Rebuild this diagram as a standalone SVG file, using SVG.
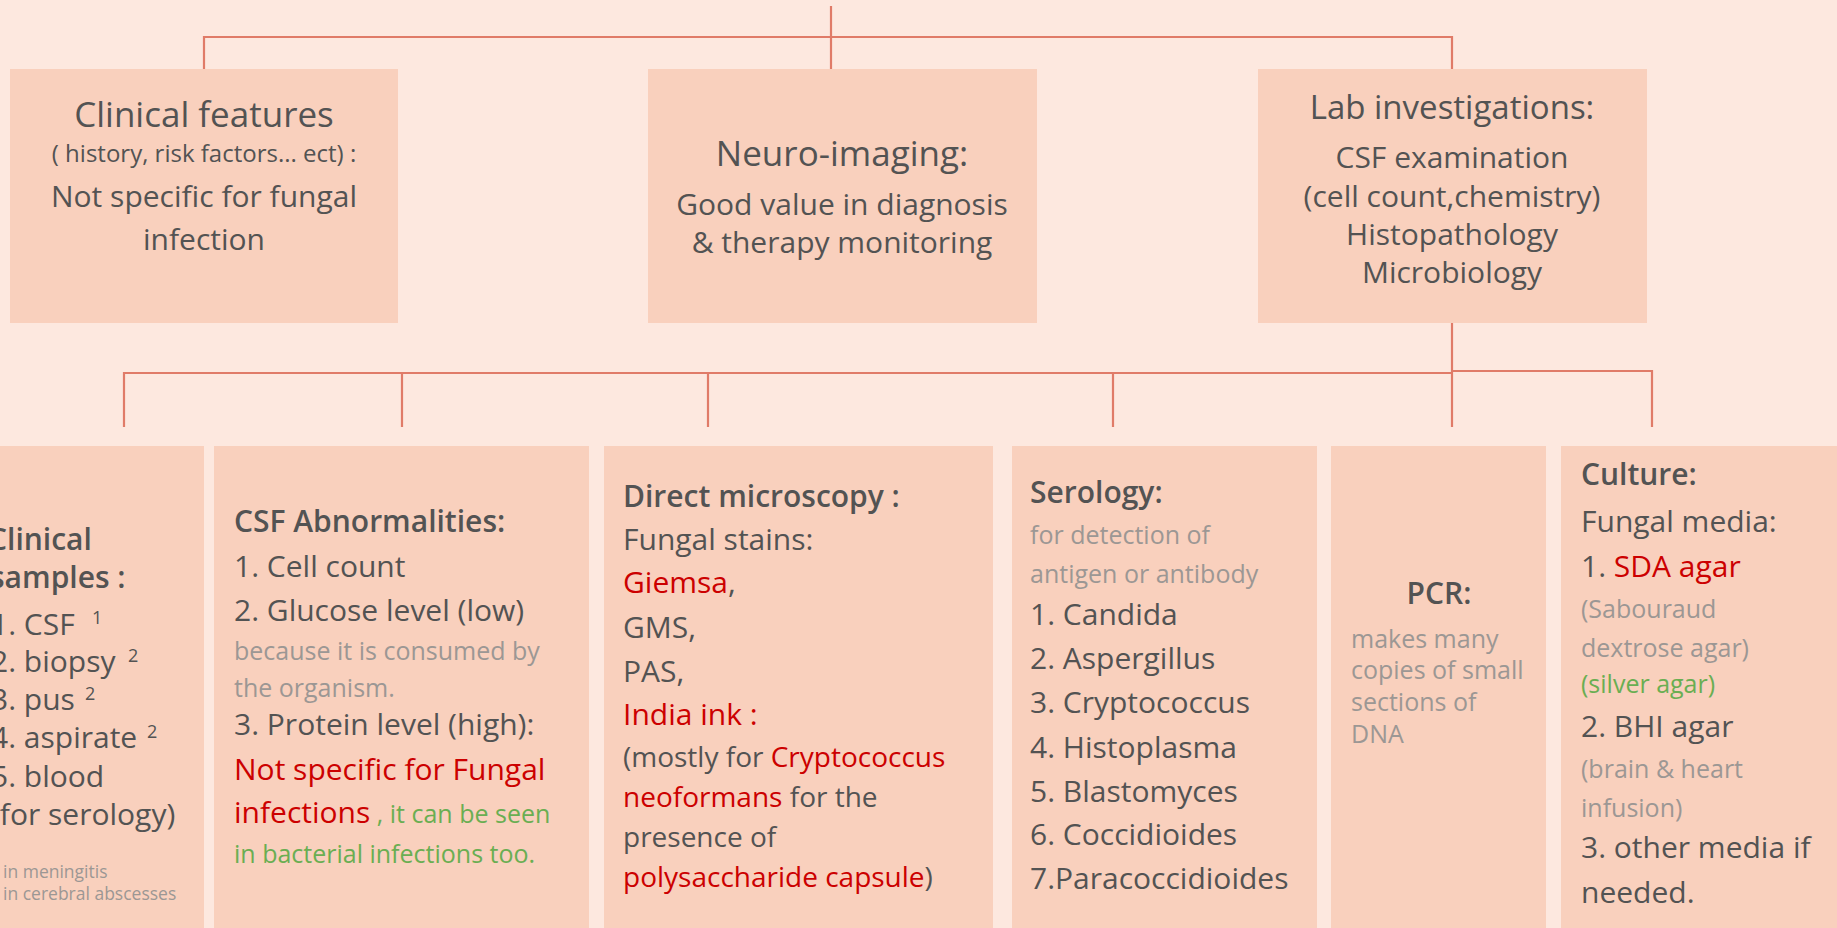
<svg xmlns="http://www.w3.org/2000/svg" width="1837" height="928" viewBox="0 0 1837 928">
<style>
text{font-family:"Open Sans","Liberation Sans",sans-serif;fill:#535353}
.box{fill:#F9D0BD}
.c{text-anchor:middle}
.t35{font-size:35px}
.t30{font-size:30px}
.t28{font-size:28px}
.t24{font-size:24px}
.g{font-size:25px;fill:#9C9794}
.h{font-size:30px;font-weight:600}
.red{fill:#CC0000}
.grn{fill:#6AAE52}
.sup{font-size:18px}
.fn{font-size:17.5px;fill:#9C9794}
.ln{fill:none;stroke:#E07B68;stroke-width:2.2}
</style>
<rect width="1837" height="928" fill="#FDE8DF"/>
<g id="connectors">
<path class="ln" d="M831 6V37"/>
<path class="ln" d="M204 69V37H1452V69"/>
<path class="ln" d="M831 37V69"/>
<path class="ln" d="M1452 323V427"/>
<path class="ln" d="M124 427V373H1452"/>
<path class="ln" d="M402 373V427M708 373V427M1113 373V427"/>
<path class="ln" d="M1452 371H1652V427"/>
</g>
<g id="clinical-features">
<rect class="box" x="10" y="69" width="388" height="254"/>
<text class="c t35" x="204" y="127">Clinical features</text>
<text class="c t24" x="204" y="162">( history, risk factors... ect) :</text>
<text class="c t30" x="204" y="207">Not specific for fungal</text>
<text class="c t30" x="204" y="250">infection</text>
</g>
<g id="neuro-imaging">
<rect class="box" x="648" y="69" width="389" height="254"/>
<text class="c t35" x="842" y="166">Neuro-imaging:</text>
<text class="c t30" x="842" y="215">Good value in diagnosis</text>
<text class="c t30" x="842" y="253">&amp; therapy monitoring</text>
</g>
<g id="lab-investigations">
<rect class="box" x="1258" y="69" width="389" height="254"/>
<text class="c" x="1452" y="119" style="font-size:33px">Lab investigations:</text>
<text class="c t30" x="1452" y="168">CSF examination</text>
<text class="c t30" x="1452" y="207">(cell count,chemistry)</text>
<text class="c t30" x="1452" y="245">Histopathology</text>
<text class="c t30" x="1452" y="283">Microbiology</text>
</g>
<g id="clinical-samples">
<rect class="box" x="-20" y="446" width="224" height="500"/>
<text class="h" x="-12" y="550">Clinical</text>
<text class="h" x="-10" y="588">samples :</text>
<text class="t30" x="-9" y="635">1. CSF <tspan class="sup" x="92" y="624">1</tspan></text>
<text class="t30" x="-9" y="672">2. biopsy <tspan class="sup" x="128" y="662">2</tspan></text>
<text class="t30" x="-9" y="710">3. pus <tspan class="sup" x="85" y="700">2</tspan></text>
<text class="t30" x="-9" y="748">4. aspirate <tspan class="sup" x="147" y="738">2</tspan></text>
<text class="t30" x="-9" y="787">5. blood</text>
<text class="t30" x="-9" y="825">(for serology)</text>
<text class="fn" x="3" y="878">in meningitis</text>
<text class="fn" x="3" y="900">in cerebral abscesses</text>
</g>
<g id="csf-abnormalities">
<rect class="box" x="214" y="446" width="375" height="500"/>
<text class="h" x="234" y="532">CSF Abnormalities:</text>
<text class="t30" x="234" y="577">1. Cell count</text>
<text class="t30" x="234" y="621">2. Glucose level (low)</text>
<text class="g" x="234" y="660">because it is consumed by</text>
<text class="g" x="234" y="697">the organism.</text>
<text class="t30" x="234" y="735">3. Protein level (high):</text>
<text class="t30 red" x="234" y="780">Not specific for Fungal</text>
<text class="t30" x="234" y="823"><tspan class="red">infections</tspan><tspan class="grn" style="font-size:25px"> , it can be seen</tspan></text>
<text class="g grn" x="234" y="863">in bacterial infections too.</text>
</g>
<g id="direct-microscopy">
<rect class="box" x="604" y="446" width="389" height="500"/>
<text class="h" x="623" y="507">Direct microscopy :</text>
<text class="t30" x="623" y="550">Fungal stains:</text>
<text class="t30" x="623" y="593"><tspan class="red">Giemsa</tspan>,</text>
<text class="t30" x="623" y="638">GMS,</text>
<text class="t30" x="623" y="682">PAS,</text>
<text class="t30 red" x="623" y="725">India ink :</text>
<text class="t28" x="623" y="767">(mostly for <tspan class="red">Cryptococcus</tspan></text>
<text class="t28" x="623" y="807"><tspan class="red">neoformans</tspan> for the</text>
<text class="t28" x="623" y="847">presence of</text>
<text class="t28" x="623" y="887"><tspan class="red">polysaccharide capsule</tspan>)</text>
</g>
<g id="serology">
<rect class="box" x="1012" y="446" width="305" height="500"/>
<text class="h" x="1030" y="503">Serology:</text>
<text class="g" x="1030" y="544">for detection of</text>
<text class="g" x="1030" y="583">antigen or antibody</text>
<text class="t30" x="1030" y="625">1. Candida</text>
<text class="t30" x="1030" y="669">2. Aspergillus</text>
<text class="t30" x="1030" y="713">3. Cryptococcus</text>
<text class="t30" x="1030" y="758">4. Histoplasma</text>
<text class="t30" x="1030" y="802">5. Blastomyces</text>
<text class="t30" x="1030" y="845">6. Coccidioides</text>
<text class="t30" x="1030" y="889">7.Paracoccidioides</text>
</g>
<g id="pcr">
<rect class="box" x="1331" y="446" width="215" height="500"/>
<text class="h c" x="1439" y="604">PCR:</text>
<text class="g" x="1351" y="648">makes many</text>
<text class="g" x="1351" y="679">copies of small</text>
<text class="g" x="1351" y="711">sections of</text>
<text class="g" x="1351" y="743">DNA</text>
</g>
<g id="culture">
<rect class="box" x="1561" y="446" width="300" height="500"/>
<text class="h" x="1581" y="485">Culture:</text>
<text class="t30" x="1581" y="532">Fungal media:</text>
<text class="t30" x="1581" y="577">1. <tspan class="red">SDA agar</tspan></text>
<text class="g" x="1581" y="618">(Sabouraud</text>
<text class="g" x="1581" y="657">dextrose agar)</text>
<text class="g grn" x="1581" y="693">(silver agar)</text>
<text class="t30" x="1581" y="737">2. BHI agar</text>
<text class="g" x="1581" y="778">(brain &amp; heart</text>
<text class="g" x="1581" y="817">infusion)</text>
<text class="t30" x="1581" y="858">3. other media if</text>
<text class="t30" x="1581" y="903">needed.</text>
</g>
</svg>
